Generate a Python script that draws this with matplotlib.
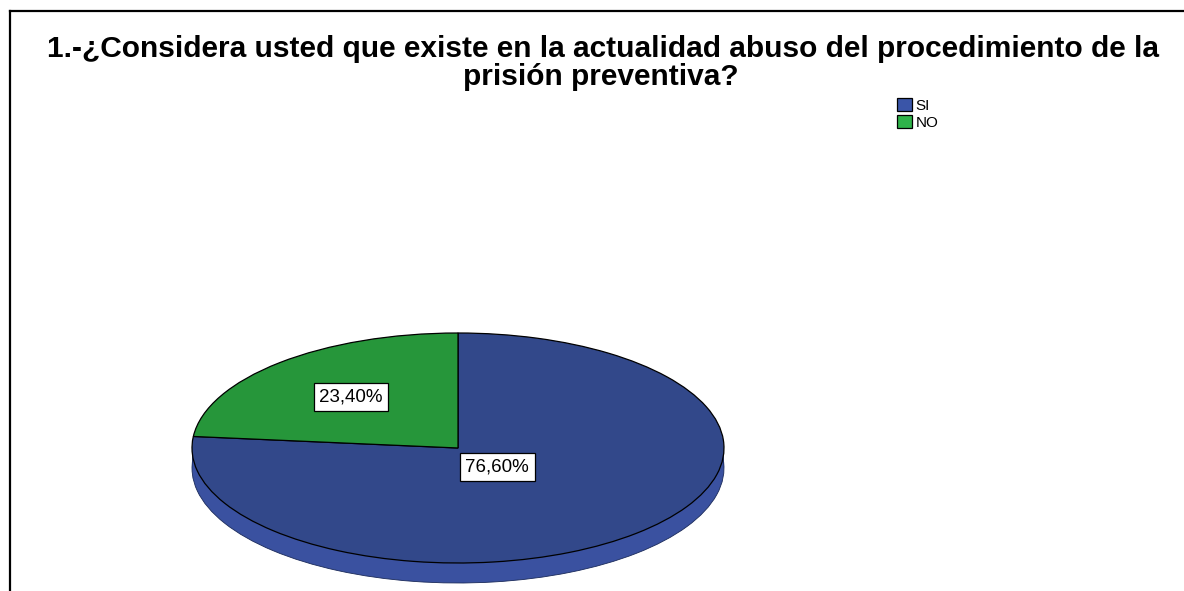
import matplotlib.pyplot as plt
from matplotlib.lines import Line2D
from matplotlib.patches import Rectangle
import numpy as np

plt.rcParams['font.family'] = ['Liberation Sans', 'DejaVu Sans']

# data
categories = ['SI', 'NO']
values = [76.6, 23.4]
labels = ['76,60%', '23,40%']
title_lines = ['1.-¿Considera usted que existe en la actualidad abuso del procedimiento de la',
               'prisión preventiva?']
top_colors = ['#32488a', '#26963a']
side_colors = ['#3a51a0', '#2aa040']
legend_colors = ['#3a55a8', '#2fb34a']
label_radius = [0.22, 0.60]

W, H = 1184, 591
fig = plt.figure(figsize=(W / 100, H / 100), dpi=100)

# ellipse geometry in pixels
cx, cy = 458, 448
rx, ry = 266, 115
depth = 20 / ry
xlim = (-1.05, 1.05)
ylim = (-1.28, 1.05)
left = (cx + xlim[0] * rx) / W
width = (xlim[1] - xlim[0]) * rx / W
bottom = 1 - (cy - ylim[0] * ry) / H
height = (ylim[1] - ylim[0]) * ry / H
ax = fig.add_axes([left, bottom, width, height])

# side of the disc
ax.pie(values, colors=side_colors, startangle=90, counterclock=False,
       center=(0, -depth), wedgeprops=dict(edgecolor='#1a2a5a', linewidth=0.6))
ax.add_patch(Rectangle((-1, -depth), 2, depth, facecolor=side_colors[0],
                       edgecolor='none', zorder=0.5))
# top face
wedges, _ = ax.pie(values, colors=top_colors, startangle=90, counterclock=False,
                   wedgeprops=dict(edgecolor='black', linewidth=0.9))
for w in wedges:
    w.set_zorder(2)

ax.set_aspect('auto')
ax.set_xlim(*xlim)
ax.set_ylim(*ylim)
ax.axis('off')

for w, lab, r in zip(wedges, labels, label_radius):
    ang = np.deg2rad((w.theta1 + w.theta2) / 2)
    ax.text(r * np.cos(ang), r * np.sin(ang), lab, ha='center', va='center',
            fontsize=13.5, zorder=5,
            bbox=dict(boxstyle='square,pad=0.3', facecolor='white',
                      edgecolor='black', linewidth=0.9))

fig.text(603 / W, 1 - 57 / H, title_lines[0], ha='center', va='baseline',
         fontsize=21.5, fontweight='bold')
fig.text(601 / W, 1 - 85 / H, title_lines[1], ha='center', va='baseline',
         fontsize=21.5, fontweight='bold')

handles = [Rectangle((0, 0), 1, 1, facecolor=c, edgecolor='black', linewidth=0.9)
           for c in legend_colors]
fig.legend(handles, categories, loc='upper left',
           bbox_to_anchor=(897 / W, 1 - 98 / H), frameon=False, fontsize=11,
           handlelength=0.95, handleheight=0.95, handletextpad=0.25,
           labelspacing=0.12, borderpad=0, borderaxespad=0)

# outer frame (left and top)
fig.add_artist(Line2D([10 / W, 10 / W], [0, 1 - 11 / H], color='black', lw=1.6))
fig.add_artist(Line2D([10 / W, 1], [1 - 11 / H, 1 - 11 / H], color='black', lw=1.6))

plt.savefig('out.png', dpi=100)
plt.close()
